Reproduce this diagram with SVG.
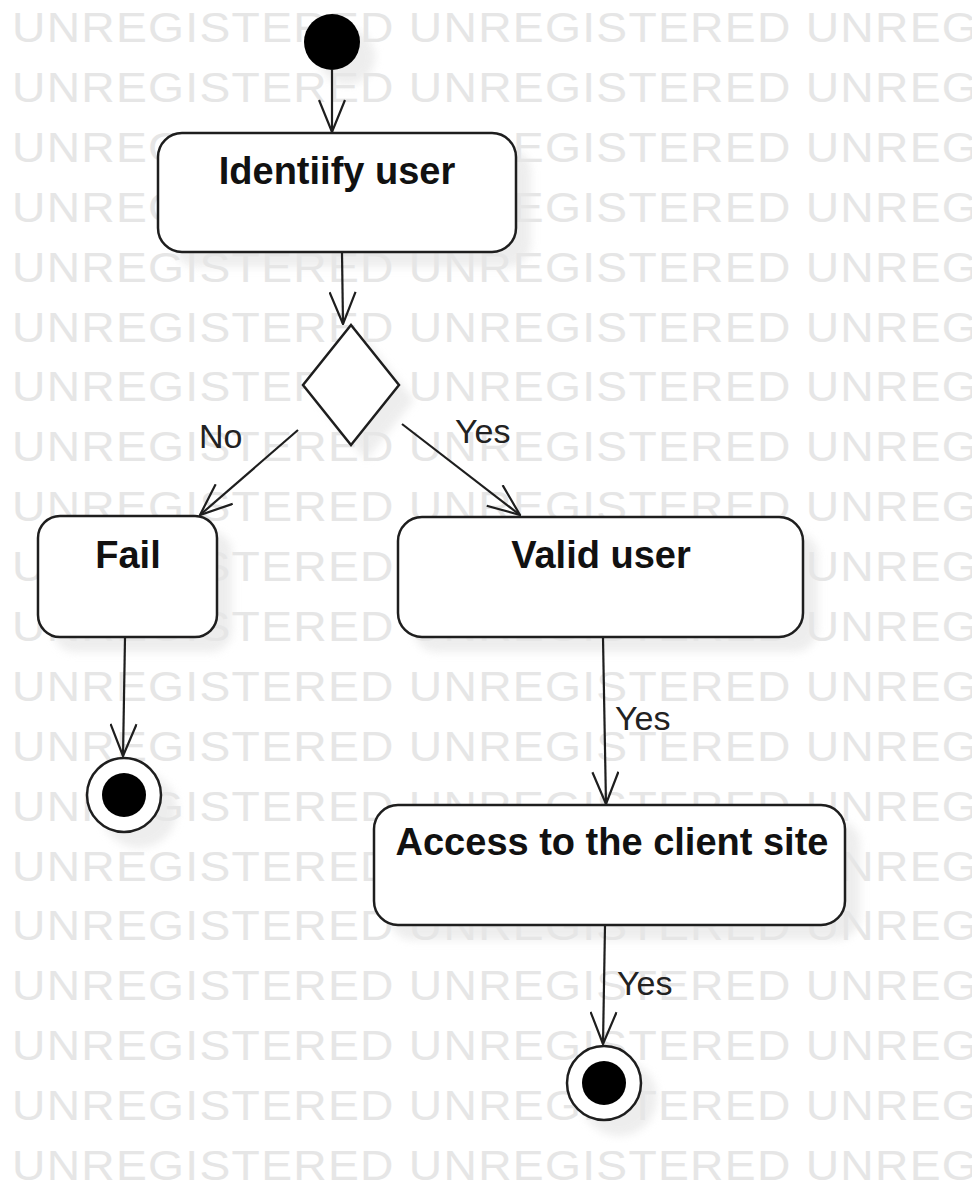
<svg xmlns="http://www.w3.org/2000/svg" width="972" height="1188" viewBox="0 0 972 1188">
  <style>
    .wm { font-family: "Liberation Sans", Arial, sans-serif; font-size: 42px; letter-spacing: 1.2px; fill: #e6e6e6; }
    .box { fill: #ffffff; stroke: #1e1e1e; stroke-width: 2.5; }
    .shadow { fill: #e6e6e6; opacity: 0.7; filter: url(#soft); }
    .title { font-family: "Liberation Sans", Arial, sans-serif; font-size: 38px; font-weight: bold; fill: #111111; text-anchor: middle; }
    .lbl { font-family: "Liberation Sans", Arial, sans-serif; font-size: 34px; fill: #222222; }
    .edge { fill: none; stroke: #1e1e1e; stroke-width: 2.2; marker-end: url(#open); }
  </style>
  <defs>
    <filter id="soft" x="-20%" y="-20%" width="140%" height="140%">
      <feGaussianBlur stdDeviation="4"/>
    </filter>
    <marker id="open" viewBox="0 0 34 28" refX="33" refY="14" markerWidth="34" markerHeight="28" markerUnits="userSpaceOnUse" orient="auto">
      <path d="M1,1 L33,14 L1,27" fill="none" stroke="#1e1e1e" stroke-width="2.2"/>
    </marker>
  </defs>

  <rect width="972" height="1188" fill="#ffffff"/>

  <!-- drop shadows under the nodes -->
  <g id="shadows">
    <circle class="shadow" cx="347" cy="57" r="28"/>
    <rect class="shadow" x="173" y="148" width="358" height="119" rx="24"/>
    <path class="shadow" d="M366,340 L414,400 L366,460 L318,400 Z"/>
    <rect class="shadow" x="53" y="531" width="179" height="121" rx="22"/>
    <rect class="shadow" x="413" y="532" width="405" height="120" rx="24"/>
    <circle class="shadow" cx="139" cy="810" r="38"/>
    <rect class="shadow" x="389" y="820" width="471" height="120" rx="24"/>
    <circle class="shadow" cx="619" cy="1098" r="38"/>
  </g>

  <!-- background stamp rows, stretched horizontally -->
  <g id="watermark" transform="translate(12,0) scale(1.1,1)">
    <text class="wm" x="0" y="42">UNREGISTERED UNREGISTERED UNREGISTERED</text>
    <text class="wm" x="0" y="102">UNREGISTERED UNREGISTERED UNREGISTERED</text>
    <text class="wm" x="0" y="162">UNREGISTERED UNREGISTERED UNREGISTERED</text>
    <text class="wm" x="0" y="222">UNREGISTERED UNREGISTERED UNREGISTERED</text>
    <text class="wm" x="0" y="282">UNREGISTERED UNREGISTERED UNREGISTERED</text>
    <text class="wm" x="0" y="342">UNREGISTERED UNREGISTERED UNREGISTERED</text>
    <text class="wm" x="0" y="401">UNREGISTERED UNREGISTERED UNREGISTERED</text>
    <text class="wm" x="0" y="461">UNREGISTERED UNREGISTERED UNREGISTERED</text>
    <text class="wm" x="0" y="521">UNREGISTERED UNREGISTERED UNREGISTERED</text>
    <text class="wm" x="0" y="581">UNREGISTERED UNREGISTERED UNREGISTERED</text>
    <text class="wm" x="0" y="641">UNREGISTERED UNREGISTERED UNREGISTERED</text>
    <text class="wm" x="0" y="701">UNREGISTERED UNREGISTERED UNREGISTERED</text>
    <text class="wm" x="0" y="761">UNREGISTERED UNREGISTERED UNREGISTERED</text>
    <text class="wm" x="0" y="821">UNREGISTERED UNREGISTERED UNREGISTERED</text>
    <text class="wm" x="0" y="881">UNREGISTERED UNREGISTERED UNREGISTERED</text>
    <text class="wm" x="0" y="940">UNREGISTERED UNREGISTERED UNREGISTERED</text>
    <text class="wm" x="0" y="1000">UNREGISTERED UNREGISTERED UNREGISTERED</text>
    <text class="wm" x="0" y="1060">UNREGISTERED UNREGISTERED UNREGISTERED</text>
    <text class="wm" x="0" y="1120">UNREGISTERED UNREGISTERED UNREGISTERED</text>
    <text class="wm" x="0" y="1180">UNREGISTERED UNREGISTERED UNREGISTERED</text>
  </g>

  <!-- transitions -->
  <g id="connectors">
    <line class="edge" x1="332" y1="70" x2="332" y2="132"/>
    <line class="edge" x1="342" y1="253" x2="343" y2="324"/>
    <line class="edge" x1="298" y1="430" x2="200" y2="515"/>
    <line class="edge" x1="402" y1="424" x2="520" y2="515"/>
    <line class="edge" x1="125" y1="638" x2="123" y2="756"/>
    <line class="edge" x1="603" y1="638" x2="606" y2="804"/>
    <line class="edge" x1="605" y1="926" x2="603" y2="1044"/>
    <text class="lbl" x="199" y="448">No</text>
    <text class="lbl" x="455" y="443">Yes</text>
    <text class="lbl" x="615" y="730">Yes</text>
    <text class="lbl" x="617" y="995">Yes</text>
  </g>

  <g id="start">
    <circle cx="332" cy="42" r="28" fill="#000000"/>
  </g>

  <g id="identify-user">
    <rect class="box" x="158" y="133" width="358" height="119" rx="24"/>
    <text class="title" x="337" y="184">Identiify user</text>
  </g>

  <g id="decision">
    <path class="box" d="M351,325 L399,385 L351,445 L303,385 Z"/>
  </g>

  <g id="fail">
    <rect class="box" x="38" y="516" width="179" height="121" rx="22"/>
    <text class="title" x="128" y="568">Fail</text>
  </g>

  <g id="valid-user">
    <rect class="box" x="398" y="517" width="405" height="120" rx="24"/>
    <text class="title" x="601" y="568">Valid user</text>
  </g>

  <g id="end-fail">
    <circle cx="124" cy="795" r="37" fill="#ffffff" stroke="#1e1e1e" stroke-width="2.5"/>
    <circle cx="124" cy="795" r="22" fill="#000000"/>
  </g>

  <g id="access-client-site">
    <rect class="box" x="374" y="805" width="471" height="120" rx="24"/>
    <text class="title" x="612" y="855">Access to the client site</text>
  </g>

  <g id="end-access">
    <circle cx="604" cy="1083" r="37" fill="#ffffff" stroke="#1e1e1e" stroke-width="2.5"/>
    <circle cx="604" cy="1083" r="22" fill="#000000"/>
  </g>
</svg>
